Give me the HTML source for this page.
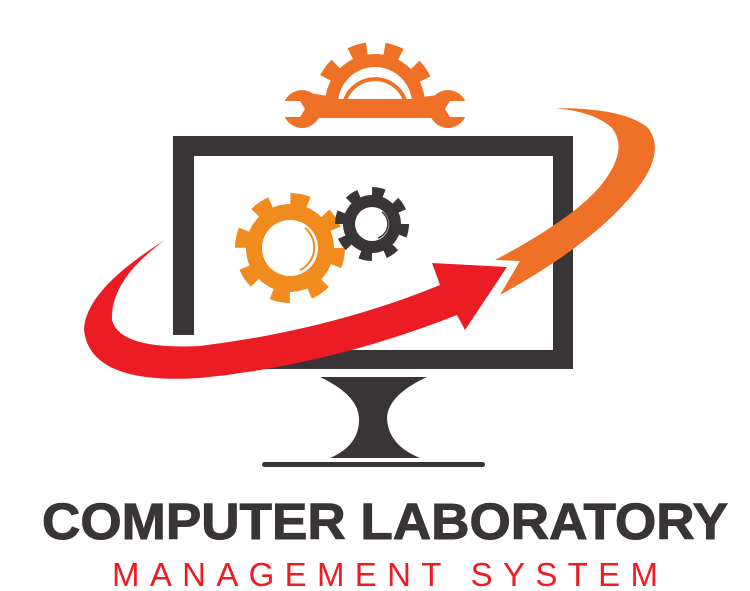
<!DOCTYPE html>
<html><head><meta charset="utf-8"><style>html,body{margin:0;padding:0;background:#fff}svg{display:block}</style></head>
<body>
<svg width="750" height="591" viewBox="0 0 750 591" xmlns="http://www.w3.org/2000/svg">
<defs>
<clipPath id="top"><rect x="300" y="30" width="150" height="72"/></clipPath>
</defs>
<!-- top gear + wrench -->
<g fill="#ef7127">
 <g clip-path="url(#top)">
  <circle cx="375" cy="104" r="50"/>
  <circle cx="375" cy="104" r="55" fill="none" stroke="#ef7127" stroke-width="14" stroke-dasharray="17 17.5" transform="rotate(-8 375 104)"/>
 </g>
 <circle cx="375" cy="104" r="37" fill="#fff"/>
 <path d="M345 100 A32 32 0 0 1 405 100" fill="none" stroke="#ef7127" stroke-width="4"/>
 <rect x="300" y="99" width="150" height="19"/>
 <circle cx="302" cy="109" r="19"/>
 <circle cx="448" cy="109" r="19"/>
 <path d="M280 101 L300 101 L305 109 L300 117 L280 117 Z" fill="#fff"/>
 <path d="M470 101 L450 101 L445 109 L450 117 L470 117 Z" fill="#fff"/>
</g>
<!-- monitor -->
<rect x="173" y="136" width="400" height="20" rx="8" fill="#393536"/>
<rect x="173" y="136" width="21" height="199" fill="#393536"/>
<rect x="553" y="136" width="20" height="233" fill="#393536"/>
<rect x="173" y="350" width="400" height="19" rx="6" fill="#393536"/>
<!-- stand -->
<path d="M320 377 H427 Q388 395 387 418 Q388 445 420 458 H330 Q360 445 359 418 Q358 395 320 377 Z" fill="#393536"/>
<rect x="262" y="462" width="223" height="5" rx="2.5" fill="#393536"/>
<!-- gears -->
<g>
 <circle cx="290" cy="248" r="44" fill="#f28b1d"/>
 <circle cx="290" cy="248" r="48" fill="none" stroke="#f28b1d" stroke-width="14" stroke-dasharray="18 19.7"/>
 <circle cx="290" cy="248" r="28" fill="#fff"/>
 <path d="M305 228 A25 25 0 0 1 300 270" fill="none" stroke="#f28b1d" stroke-width="2"/>
 <circle cx="372" cy="224" r="29" fill="#393536"/>
 <circle cx="372" cy="224" r="32" fill="none" stroke="#393536" stroke-width="10" stroke-dasharray="12 13.1"/>
 <circle cx="372" cy="224" r="17" fill="#fff"/>
 <path d="M382 212 A15 15 0 0 1 378 238" fill="none" stroke="#393536" stroke-width="1.5"/>
</g>
<!-- orange swoosh -->
<path d="M555 108 Q625 108 648 128 Q665 150 640 185 Q600 240 500 295 L520 261 L495 260 Q580 215 605 180 Q628 148 612 128 Q595 112 555 108 Z" fill="#ef7127"/>
<!-- red arrow -->
<path d="M165 240 Q85 290 84 330 Q90 385 200 378 Q330 365 457 315 L465 330 L507 267 L432 263 L440 285 Q330 330 200 346 Q120 350 112 320 Q110 280 165 240 Z" fill="#ec1c24"/>
<!-- text -->
<text x="42" y="539" textLength="686" lengthAdjust="spacingAndGlyphs" font-family="Liberation Sans, sans-serif" font-weight="bold" font-size="51" fill="#393536" stroke="#393536" stroke-width="1">COMPUTER LABORATORY</text>
<text x="112" y="586" textLength="546" lengthAdjust="spacing" font-family="Liberation Sans, sans-serif" font-size="33" fill="#ec1c24">MANAGEMENT SYSTEM</text>
</svg>
</body></html>
